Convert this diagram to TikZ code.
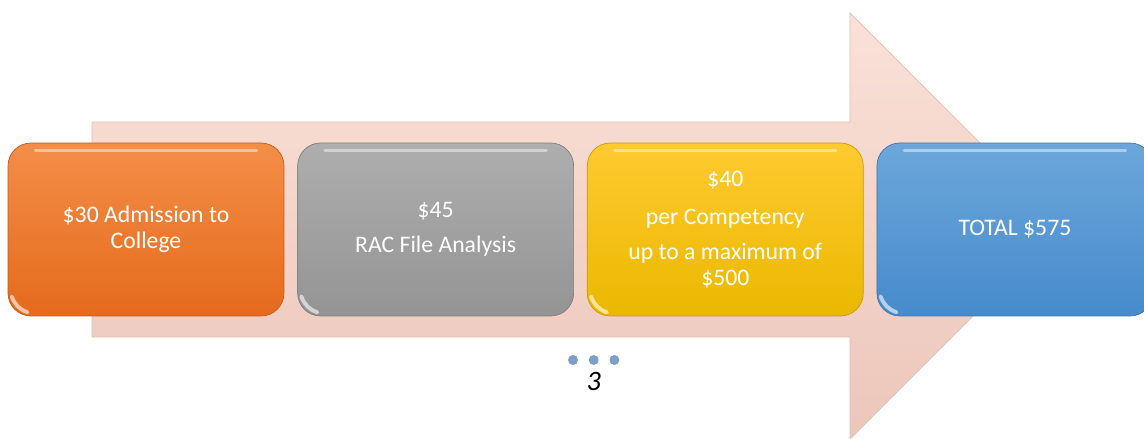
\documentclass[tikz,border=0pt]{standalone}
\usepackage{fontspec}
\setmainfont{Carlito}
\usetikzlibrary{positioning}
\definecolor{arrowtop}{RGB}{250,225,216}
\definecolor{arrowbot}{RGB}{236,198,186}
\definecolor{arrowedge}{RGB}{226,190,178}
\definecolor{orangetop}{RGB}{243,142,72}
\definecolor{orangebot}{RGB}{229,106,28}
\definecolor{graytop}{RGB}{174,174,174}
\definecolor{graybot}{RGB}{148,148,148}
\definecolor{yellowtop}{RGB}{255,202,48}
\definecolor{yellowbot}{RGB}{234,184,0}
\definecolor{bluetop}{RGB}{108,166,218}
\definecolor{bluebot}{RGB}{70,139,204}
\definecolor{dotblue}{RGB}{124,158,200}
\tikzset{stepbox/.style={rounded corners=13pt, minimum width=5.52cm, minimum height=3.46cm,
    align=center, text=white, font=\fontsize{13.5}{14.7}\selectfont, inner sep=2pt}}
\tikzset{gloss/.style={white, opacity=.45, line width=1.6pt, line cap=round}}
\tikzset{dot/.style={circle, fill=dotblue, inner sep=0pt, minimum size=0.2cm}}

\begin{document}
\begin{tikzpicture}[x=0.02cm, y=-0.02cm, line join=round]
\clip (0,0) rectangle (1144,439);

% big arrow behind the steps
\draw[arrowedge, top color=arrowtop, bottom color=arrowbot]
    (92,122) -- (850,122) -- (850,13) -- (1063,226) -- (850,439) -- (850,337) -- (92,337) -- cycle;

\node[stepbox, draw=orangebot!85!black, top color=orangetop, bottom color=orangebot]
    (admission) at (146,229.5) {\$30 Admission to\\College};
\node[stepbox, draw=graybot!85!black, top color=graytop, bottom color=graybot,
    right=0.26cm of admission] (analysis) {\$45\\[5pt]RAC File Analysis};
\node[stepbox, draw=yellowbot!85!black, top color=yellowtop, bottom color=yellowbot,
    right=0.26cm of analysis] (competency) {\$40\\[7pt]per Competency\\[5pt]up to a maximum of\\\$500};
\node[stepbox, draw=bluebot!85!black, top color=bluetop, bottom color=bluebot,
    right=0.26cm of competency] (total) {TOTAL \$575};

\foreach \b in {admission, analysis, competency, total} {
    \draw[gloss] ([xshift=0.55cm, yshift=-0.16cm]\b.north west) -- ([xshift=-0.55cm, yshift=-0.16cm]\b.north east);
    \draw[gloss, opacity=.6, line width=2.2pt] ([xshift=0.08cm, yshift=0.4cm]\b.south west) to[bend right=25] ([xshift=0.4cm, yshift=0.08cm]\b.south west);
}

\node[dot] (d1) at (573,360) {};
\node[dot, right=0.2cm of d1] (d2) {};
\node[dot, right=0.2cm of d2] (d3) {};
\node[font=\fontsize{16}{19}\selectfont\itshape, below=0.02cm of d2] (page) {3};

\end{tikzpicture}
\end{document}
